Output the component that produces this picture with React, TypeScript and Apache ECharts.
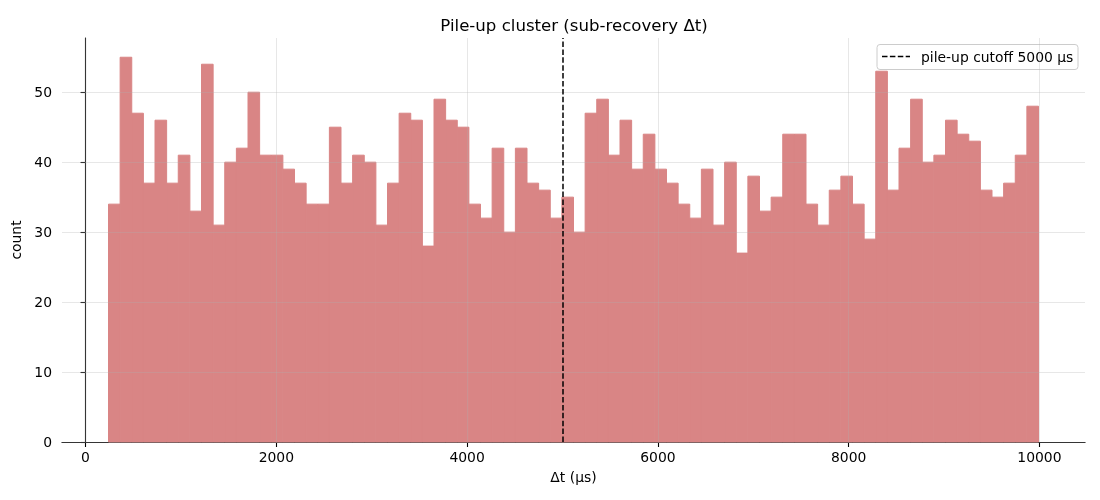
import React, { useEffect, useRef } from "react";
import * as echarts from "echarts";

const counts: number[] = [
  34, 55, 47, 37, 46, 37, 41, 33, 54, 31,
  40, 42, 50, 41, 41, 39, 37, 34, 34, 45,
  37, 41, 40, 31, 37, 47, 46, 28, 49, 46,
  45, 34, 32, 42, 30, 42, 37, 36, 32, 35,
  30, 47, 49, 41, 46, 39, 44, 39, 37, 34,
  32, 39, 31, 40, 27, 38, 33, 35, 44, 44,
  34, 31, 36, 38, 34, 29, 53, 36, 42, 49,
  40, 41, 46, 44, 43, 36, 35, 37, 41, 48,
];
const binStart = 241;
const binEnd = 9990;
const xTicks: number[] = [0, 2000, 4000, 6000, 8000, 10000];
const yTicks: number[] = [0, 10, 20, 30, 40, 50];
const cutoff = 5000;
const titleText = "Pile-up cluster (sub-recovery Δt)";
const xLabel = "Δt (μs)";
const yLabel = "count";
const legendText = "pile-up cutoff 5000 μs";

const FONT = "DejaVu Sans";
const BAR_COLOR = "#d98585";
const GRID_COLOR = "rgba(176,176,176,0.3)";
const FS = 13.9;

export default function App() {
  const ref = useRef<HTMLDivElement>(null);
  useEffect(() => {
    if (!ref.current) return;
    const chart = echarts.init(ref.current, undefined, { renderer: "svg" });
    const n = counts.length;
    const w = (binEnd - binStart) / n;
    const bins = counts.map((c, i) => [binStart + i * w, binStart + (i + 1) * w, c]);
    const span = binEnd - binStart;
    const xMin = binStart - 0.05 * span;
    const xMax = binEnd + 0.05 * span;
    const yMax = Math.max(...counts) * 1.05;

    const gridLineStyle = { color: GRID_COLOR, width: 1, type: "solid" as const };
    const markData: any[] = [
      ...xTicks.map((v) => ({ xAxis: v, lineStyle: gridLineStyle })),
      ...yTicks.map((v) => ({ yAxis: v, lineStyle: gridLineStyle })),
      {
        xAxis: cutoff,
        lineStyle: { color: "#000", width: 1.5, type: [5.5, 2.4] },
      },
    ];

    chart.setOption({
      animation: false,
      textStyle: { fontFamily: FONT },
      title: {
        text: titleText,
        left: 569,
        top: 12,
        textAlign: "center",
        textStyle: { fontFamily: FONT, fontSize: 16.6, fontWeight: "normal", color: "#000" },
      },
      grid: { left: 62, right: 15, top: 38, bottom: 58, containLabel: false },
      xAxis: {
        type: "value",
        min: xMin,
        max: xMax,
        name: xLabel,
        nameLocation: "middle",
        nameGap: 28,
        nameTextStyle: { fontFamily: FONT, fontSize: FS, color: "#000", verticalAlign: "top" },
        axisLine: { show: true, onZero: false, lineStyle: { color: "#000", width: 1.1 } },
        axisTick: { show: true, inside: false, length: 5, customValues: xTicks, lineStyle: { color: "#000", width: 1.1 } },
        axisLabel: {
          customValues: xTicks,
          margin: 8,
          fontFamily: FONT,
          fontSize: FS,
          color: "#000",
          formatter: (v: number) => String(v),
        },
        splitLine: { show: false },
      },
      yAxis: {
        type: "value",
        min: 0,
        max: yMax,
        name: yLabel,
        nameLocation: "middle",
        nameGap: 30,
        nameRotate: 90,
        nameTextStyle: { fontFamily: FONT, fontSize: FS, color: "#000" },
        axisLine: { show: true, lineStyle: { color: "#000", width: 1.1 } },
        axisTick: { show: true, inside: false, length: 5, customValues: yTicks, lineStyle: { color: "#000", width: 1.1 } },
        axisLabel: {
          customValues: yTicks,
          margin: 10,
          fontFamily: FONT,
          fontSize: FS,
          color: "#000",
          formatter: (v: number) => String(v),
        },
        splitLine: { show: false },
      },
      series: [
        {
          type: "custom",
          z: 2,
          data: bins,
          encode: { x: [0, 1], y: 2 },
          renderItem: (params: any, api: any) => {
            const p0 = api.coord([api.value(0), api.value(2)]);
            const p1 = api.coord([api.value(1), 0]);
            return {
              type: "rect",
              shape: { x: p0[0], y: p0[1], width: p1[0] - p0[0], height: p1[1] - p0[1] },
              style: { fill: BAR_COLOR, stroke: BAR_COLOR, lineWidth: 1 },
            };
          },
        },
        {
          type: "line",
          z: 5,
          data: [],
          markLine: {
            silent: true,
            symbol: ["none", "none"],
            label: { show: false },
            emphasis: { disabled: true },
            data: markData,
          },
        },
      ],
      graphic: [
        {
          type: "group",
          z: 100,
          children: [
            {
              type: "rect",
              shape: { x: 877, y: 44.5, width: 201, height: 25, r: 3 },
              style: { fill: "rgba(255,255,255,0.8)", stroke: "#cccccc", lineWidth: 1 },
            },
            {
              type: "line",
              shape: { x1: 882, y1: 56.5, x2: 910, y2: 56.5 },
              style: { stroke: "#000", lineWidth: 1.5, lineDash: [5.5, 2.4] },
            },
            {
              type: "text",
              x: 921,
              y: 56.5,
              style: {
                text: legendText,
                fontFamily: FONT,
                fontSize: FS,
                fill: "#000",
                verticalAlign: "middle",
                align: "left",
              },
            },
          ],
        },
      ],
    });
    return () => chart.dispose();
  }, []);
  return (
    <div
      ref={ref}
      style={{ position: "fixed", left: 0, top: 0, width: 1100, height: 500 }}
    />
  );
}
